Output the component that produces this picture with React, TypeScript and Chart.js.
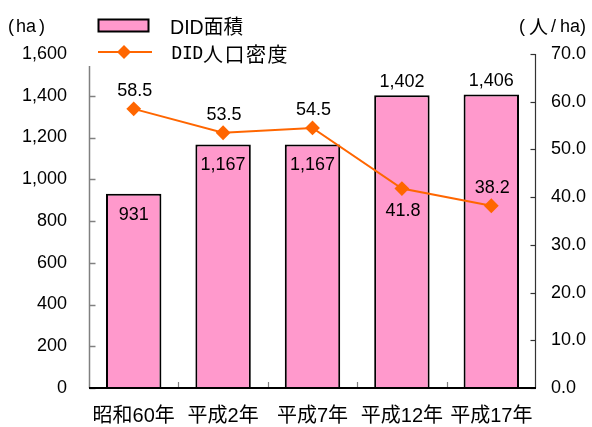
import React, { useEffect, useRef } from "react";
import { Chart, registerables } from "chart.js";

Chart.register(...registerables);

// ---- data ----
const categories = ["昭和60年", "平成2年", "平成7年", "平成12年", "平成17年"];
const areaValues = [931, 1167, 1167, 1402, 1406];
const densityValues = [58.5, 53.5, 54.5, 41.8, 38.2];
const leftTicks = [0, 200, 400, 600, 800, 1000, 1200, 1400, 1600];
const rightTicks = [0, 10, 20, 30, 40, 50, 60, 70];
const areaLabelPlacement = ["inside", "inside", "inside", "above", "above"];
const densityLabelPlacement = ["above", "above", "above", "below", "above"];
const areaName = "DID面積";
const densityNameLatin = "DID";
const densityNameCjk = "人口密度";
const leftUnitParts = ["(", "ha", ")"];
const rightUnitParts = ["(", "人", "/", "ha", ")"];

// ---- style ----
const PINK = "#FF99CC";
const ORANGE = "#FF6600";
const FONT = '"Liberation Sans", Arial, "Noto Sans CJK JP", sans-serif';
const CJK = '"Noto Sans CJK JP", sans-serif';
const leftUnitX = [8, 16, 39];
const rightUnitX = [519, 529, 551, 560, 580];

const decorPlugin = {
  id: "decor",
  afterDraw(chart: any) {
    const ctx: CanvasRenderingContext2D = chart.ctx;
    const { left, right, top, bottom } = chart.chartArea;
    const yL = chart.scales.y;
    const yR = chart.scales.y2;
    const x = chart.scales.x;
    ctx.save();

    // left axis (gray), top hidden behind legend
    const lx = Math.round(left) + 0.5;
    ctx.strokeStyle = "#808080";
    ctx.lineWidth = 1.5;
    ctx.beginPath();
    ctx.moveTo(lx, top + 12);
    ctx.lineTo(lx, bottom);
    ctx.stroke();
    leftTicks.forEach((v) => {
      const py = Math.round(yL.getPixelForValue(v)) + 0.5;
      if (py < top + 12) return;
      ctx.beginPath();
      ctx.moveTo(lx, py);
      ctx.lineTo(lx + 6, py);
      ctx.stroke();
    });

    // right axis
    const rx = Math.round(right) - 0.5;
    ctx.strokeStyle = "#333333";
    ctx.lineWidth = 1.2;
    ctx.beginPath();
    ctx.moveTo(rx, top);
    ctx.lineTo(rx, bottom);
    ctx.stroke();
    rightTicks.forEach((v) => {
      const py = Math.round(yR.getPixelForValue(v)) + 0.5;
      ctx.beginPath();
      ctx.moveTo(rx, py);
      ctx.lineTo(rx - 5, py);
      ctx.stroke();
    });

    // bottom category ticks
    ctx.strokeStyle = "#808080";
    ctx.lineWidth = 1.2;
    const n = categories.length;
    for (let i = 1; i < n; i++) {
      const bx = Math.round((x.getPixelForValue(i - 1) + x.getPixelForValue(i)) / 2) + 0.5;
      ctx.beginPath();
      ctx.moveTo(bx, bottom);
      ctx.lineTo(bx, bottom - 6);
      ctx.stroke();
    }
    // bottom axis (black)
    ctx.strokeStyle = "#000000";
    ctx.lineWidth = 2;
    ctx.beginPath();
    ctx.moveTo(left, Math.round(bottom));
    ctx.lineTo(right, Math.round(bottom));
    ctx.stroke();

    // data labels
    ctx.fillStyle = "#000";
    ctx.font = "18px " + FONT;
    ctx.textAlign = "center";
    ctx.textBaseline = "middle";
    const barMeta = chart.getDatasetMeta(0);
    barMeta.data.forEach((el: any, i: number) => {
      const txt = areaValues[i].toLocaleString("en-US");
      const ty = areaLabelPlacement[i] === "inside" ? el.y + 21 : el.y - 13;
      ctx.fillText(txt, el.x, ty);
    });
    const lineMeta = chart.getDatasetMeta(1);
    lineMeta.data.forEach((el: any, i: number) => {
      const txt = densityValues[i].toFixed(1);
      const ty = densityLabelPlacement[i] === "above" ? el.y - 18 : el.y + 22;
      ctx.fillText(txt, el.x + 1, ty);
    });

    // unit labels
    ctx.textAlign = "left";
    leftUnitParts.forEach((p, i) => {
      ctx.font = "18px " + FONT;
      ctx.fillText(p, leftUnitX[i], 27);
    });
    rightUnitParts.forEach((p, i) => {
      ctx.font = (p === "人" ? "19px " + CJK : "18px " + FONT);
      ctx.fillText(p, rightUnitX[i], 27);
    });

    // legend
    ctx.fillStyle = PINK;
    ctx.fillRect(98.5, 19.5, 50, 12);
    ctx.strokeStyle = "#000";
    ctx.lineWidth = 2;
    ctx.strokeRect(98.5, 19.5, 50, 12);
    ctx.fillStyle = "#000";
    ctx.font = "20px " + FONT;
    ctx.fillText(areaName, 170, 28, 73);

    ctx.strokeStyle = ORANGE;
    ctx.lineWidth = 2;
    ctx.beginPath();
    ctx.moveTo(98, 52);
    ctx.lineTo(152, 52);
    ctx.stroke();
    ctx.fillStyle = ORANGE;
    ctx.beginPath();
    ctx.moveTo(124, 45);
    ctx.lineTo(131, 52);
    ctx.lineTo(124, 59);
    ctx.lineTo(117, 52);
    ctx.closePath();
    ctx.fill();

    ctx.fillStyle = "#000";
    ctx.font = '18px "DejaVu Sans Mono", "Liberation Mono", monospace';
    ctx.textAlign = "center";
    densityNameLatin.split("").forEach((c, i) => {
      ctx.fillText(c, 177 + i * 10.5, 54);
    });
    ctx.font = "20px " + CJK;
    densityNameCjk.split("").forEach((c, i) => {
      ctx.fillText(c, 213 + i * 21.5, 54);
    });

    ctx.restore();
  },
};

export default function App() {
  const ref = useRef<HTMLCanvasElement | null>(null);
  useEffect(() => {
    if (!ref.current) return;
    const chart = new Chart(ref.current, {
      type: "bar",
      data: {
        labels: categories,
        datasets: [
          {
            type: "bar",
            label: areaName,
            data: areaValues,
            backgroundColor: PINK,
            borderColor: "#000",
            borderWidth: 2,
            borderSkipped: "bottom",
            barPercentage: 0.62,
            categoryPercentage: 1,
            yAxisID: "y",
            order: 2,
          },
          {
            type: "line",
            label: densityNameLatin + densityNameCjk,
            data: densityValues,
            borderColor: ORANGE,
            backgroundColor: ORANGE,
            borderWidth: 2,
            tension: 0,
            pointStyle: "rectRot",
            pointRadius: 6,
            pointBackgroundColor: ORANGE,
            pointBorderColor: ORANGE,
            yAxisID: "y2",
            order: 1,
          },
        ],
      },
      options: {
        responsive: false,
        animation: false,
        devicePixelRatio: 1,
        layout: { padding: { top: 54, left: 0, right: 0, bottom: 0 } },
        plugins: {
          legend: { display: false },
          tooltip: { enabled: false },
        },
        scales: {
          x: {
            grid: { display: false, drawTicks: false },
            border: { display: false },
            ticks: {
              color: "#000",
              font: { size: 20, family: FONT },
              padding: 16,
              maxRotation: 0,
              autoSkip: false,
            },
            afterFit: (s: any) => {
              s.height = 39;
            },
          },
          y: {
            position: "left",
            min: 0,
            max: 1600,
            grid: { display: false, drawTicks: false },
            border: { display: false },
            ticks: {
              stepSize: 200,
              color: "#000",
              font: { size: 18, family: FONT },
              padding: 22,
              callback: (v: any) => Number(v).toLocaleString("en-US"),
            },
            afterFit: (s: any) => {
              s.width = 89;
            },
          },
          y2: {
            position: "right",
            min: 0,
            max: 70,
            grid: { display: false, drawTicks: false },
            border: { display: false },
            ticks: {
              stepSize: 10,
              color: "#000",
              font: { size: 18, family: FONT },
              padding: 15,
              callback: (v: any) => Number(v).toFixed(1),
            },
            afterFit: (s: any) => {
              s.width = 56;
            },
          },
        },
      },
      plugins: [decorPlugin],
    });
    return () => chart.destroy();
  }, []);
  return (
    <div style={{ position: "absolute", left: 0, top: 0, width: 592, height: 427, background: "#fff" }}>
      <canvas ref={ref} width={592} height={427} />
    </div>
  );
}
